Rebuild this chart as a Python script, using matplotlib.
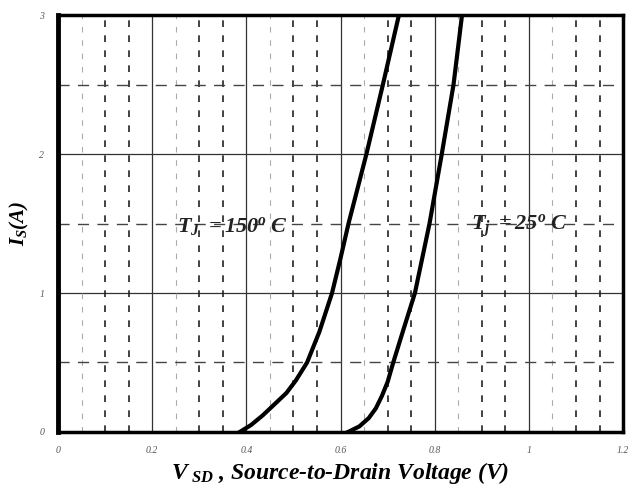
import numpy as np
import matplotlib.pyplot as plt

plt.rcParams['font.family'] = 'Liberation Serif'
plt.rcParams['mathtext.fontset'] = 'custom'
plt.rcParams['mathtext.rm'] = 'Liberation Serif:italic:bold'
plt.rcParams['mathtext.it'] = 'Liberation Serif:italic:bold'

# forward diode curves
v_150 = [0.386, 0.41, 0.435, 0.46, 0.485, 0.505, 0.529, 0.555, 0.582, 0.60, 0.617, 0.655, 0.69, 0.724]
i_150 = [0, 0.05, 0.12, 0.2, 0.28, 0.37, 0.5, 0.72, 1.0, 1.25, 1.5, 2.0, 2.5, 3.0]
v_25 = [0.616, 0.64, 0.66, 0.675, 0.688, 0.70, 0.712, 0.733, 0.758, 0.789, 0.815, 0.84, 0.858]
i_25 = [0, 0.04, 0.1, 0.17, 0.26, 0.36, 0.5, 0.73, 1.0, 1.5, 2.0, 2.5, 3.0]

xticks = [0, 0.2, 0.4, 0.6, 0.8, 1.0, 1.2]
xticklabels = ['0', '0.2', '0.4', '0.6', '0.8', '1', '1.2']
yticks = [0, 1, 2, 3]

fig = plt.figure(figsize=(6.3, 4.87), dpi=100)
ax = fig.add_axes([0.092, 0.113, 0.897, 0.856])
ax.set_xlim(0, 1.2)
ax.set_ylim(0, 3)

# grid
for x in [0.2, 0.4, 0.6, 0.8, 1.0]:
    ax.axvline(x, color='#333333', lw=0.9, zorder=1)
for y in [1, 2]:
    ax.axhline(y, color='#333333', lw=0.9, zorder=1)
for k in range(24):
    x = k * 0.05
    if k % 4 == 0:
        continue
    if k % 4 == 1:
        ax.axvline(x, color='#aaaaaa', lw=0.8, ls=(0, (5, 7)), zorder=1)
    elif abs(x - 0.85) < 1e-6:
        ax.axvline(x, color='black', lw=2.0, ls=(0, (3, 3.5)), zorder=1)
    else:
        ax.axvline(x, color='#222222', lw=1.2, ls=(0, (4, 5)), zorder=1)
for y in [0.5, 1.5, 2.5]:
    ax.axhline(y, color='#444444', lw=1.0, ls=(0, (8, 6)), zorder=1)

ax.plot(v_150, i_150, color='black', lw=3, zorder=3, solid_joinstyle='round')
ax.plot(v_25, i_25, color='black', lw=3, zorder=3, solid_joinstyle='round')

ax.text(0.37, 1.48, r'$T_J\ =150^{o}\;C$', fontsize=16, ha='center', va='center', color='#222222')
ax.text(0.98, 1.48, r'$T_j\ =25^{o}\;C$', fontsize=16, ha='center', va='center', color='#222222')

ax.set_xticks(xticks)
ax.set_xticklabels(xticklabels)
ax.set_yticks(yticks)
ax.tick_params(length=0, labelsize=7, labelcolor='#555555', pad=10)
for lab in ax.get_xticklabels() + ax.get_yticklabels():
    lab.set_style('italic')

for side in ['bottom', 'right', 'top']:
    ax.spines[side].set_linewidth(2.5)
ax.spines['left'].set_linewidth(3.5)

ax.set_xlabel(r'$V_{\ SD}$ , Source-to-Drain Voltage (V)', fontsize=17, fontweight='bold',
              style='italic', labelpad=4)
ax.set_ylabel(r'$I_S(A)$', fontsize=15, labelpad=6)

fig.savefig('out.png', dpi=100)
